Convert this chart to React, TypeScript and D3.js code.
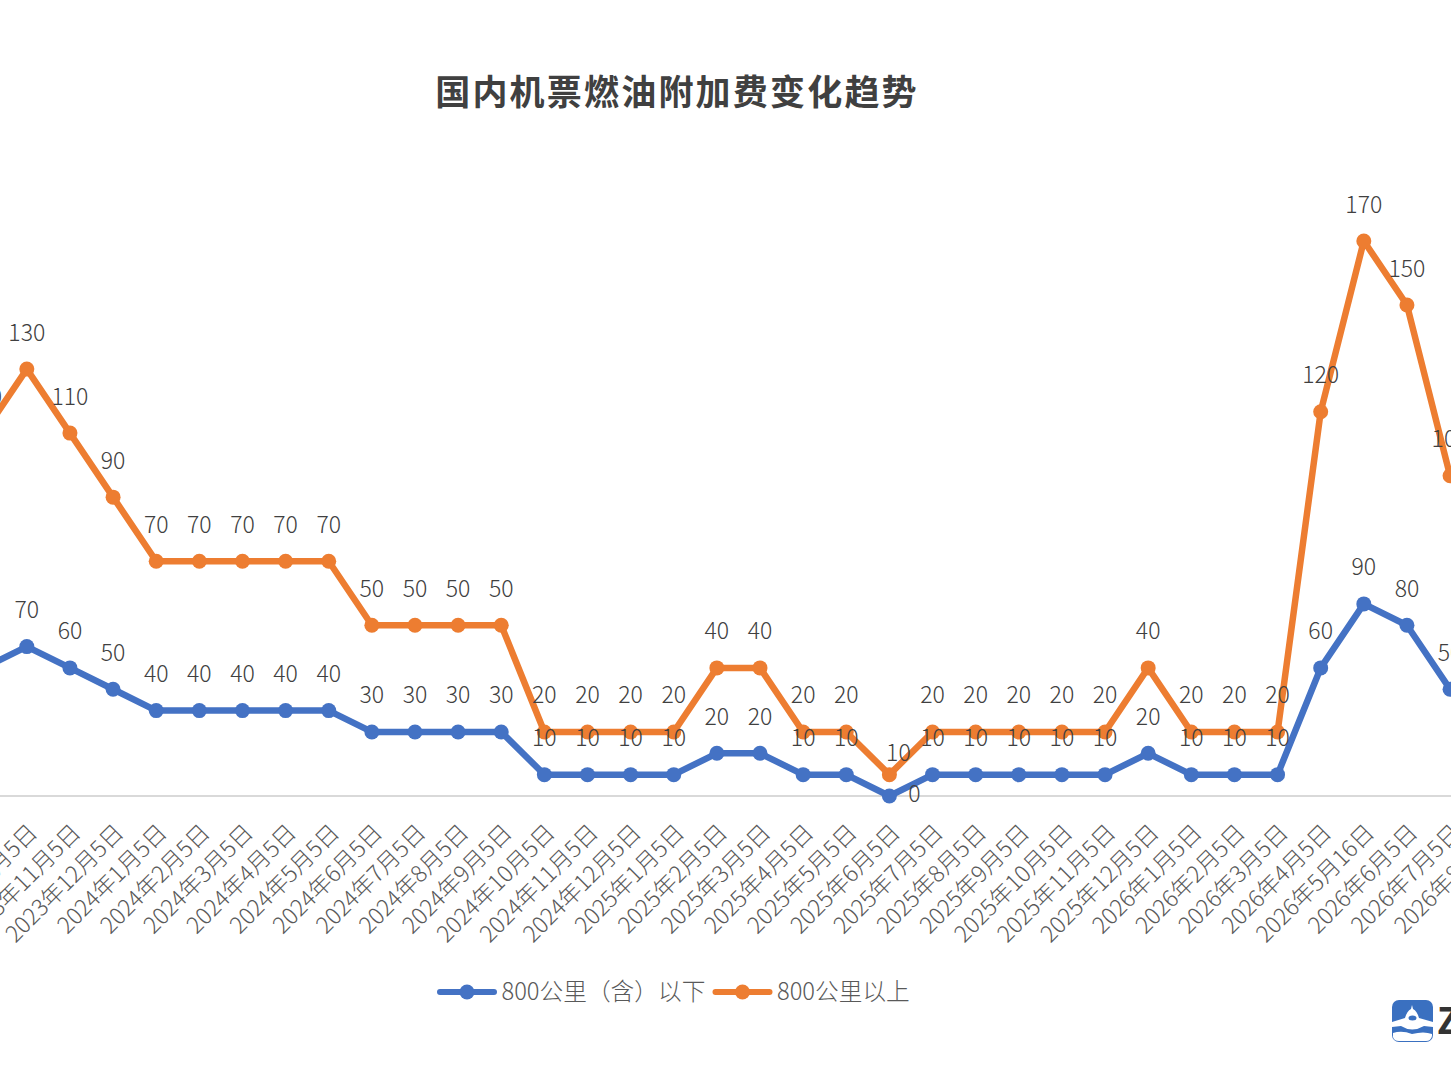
import React from "react";
import * as d3 from "d3";

const title = "国内机票燃油附加费变化趋势";
const categories = [
  "2023年9月5日","2023年10月5日","2023年11月5日","2023年12月5日",
  "2024年1月5日","2024年2月5日","2024年3月5日","2024年4月5日","2024年5月5日","2024年6月5日",
  "2024年7月5日","2024年8月5日","2024年9月5日","2024年10月5日","2024年11月5日","2024年12月5日",
  "2025年1月5日","2025年2月5日","2025年3月5日","2025年4月5日","2025年5月5日","2025年6月5日",
  "2025年7月5日","2025年8月5日","2025年9月5日","2025年10月5日","2025年11月5日","2025年12月5日",
  "2026年1月5日","2026年2月5日","2026年3月5日","2026年4月5日","2026年5月16日","2026年6月5日",
  "2026年7月5日","2026年8月5日",
];
const seriesNames = ["800公里（含）以下", "800公里以上"];
const shortHaul = [60,70,60,50,40,40,40,40,40,30,30,30,30,10,10,10,10,20,20,10,10,0,10,10,10,10,10,20,10,10,10,60,90,80,50];
const longHaul = [110,130,110,90,70,70,70,70,70,50,50,50,50,20,20,20,20,40,40,20,20,10,20,20,20,20,20,40,20,20,20,120,170,150,100];
const colors = ["#4472c4", "#ed7d31"];

const W = 1451, H = 1088;
const FONT = "'Noto Sans CJK SC', 'Noto Sans', sans-serif";

export default function App() {
  const x = d3.scalePoint<string>().domain(categories).range([-16.3, 1493.2]);
  const y = d3.scaleLinear().domain([0, 260]).range([796, 241]);
  const rows = shortHaul.map((s, i) => ({ s, l: longHaul[i], cat: categories[i] }));
  const stacked = d3.stack<any>().keys(["s", "l"])(rows);
  const line = d3.line<any>()
    .x((d) => x(d.data.cat)!)
    .y((d) => y(d[1]));

  return (
    <svg width={W} height={H} viewBox={`0 0 ${W} ${H}`}
      style={{ position: "absolute", left: 0, top: 0, background: "#fff", fontFamily: FONT }}>
      <text x={677} y={105} textAnchor="middle" fontSize={35} fontWeight={700} fill="#404040"
        letterSpacing={2.2}>{title}</text>

      <line x1={0} x2={W} y1={y(0)} y2={y(0)} stroke="#d9d9d9" strokeWidth={2} />

      {categories.map((c) => (
        <text key={c} transform={`translate(${x(c)! + 12},834) rotate(-45)`} textAnchor="end"
          fontSize={23} fontWeight={300} fill="#595959">{c}</text>
      ))}

      {stacked.map((s, si) => (
        <g key={si}>
          <path d={line(s) ?? ""} fill="none" stroke={colors[si]} strokeWidth={6.5} strokeLinejoin="round" strokeLinecap="round" />
          {s.map((d, i) => (
            <circle key={i} cx={x(d.data.cat)!} cy={y(d[1])} r={7.5} fill={colors[si]} />
          ))}
        </g>
      ))}

      {stacked.map((s, si) => (
        <g key={si}>
          {s.map((d, i) => {
            const v = d[1] - d[0];
            const cx = x(d.data.cat)!, cy = y(d[1]);
            const isZero = si === 0 && v === 0;
            const isLowOrange = si === 1 && d[1] === 10;
            const lx = isZero ? cx + 25 : isLowOrange ? cx + 9 : cx;
            const ly = isZero ? cy + 6 : isLowOrange ? cy - 14 : cy - 28.5;
            return (
              <text key={i} x={lx} y={ly} textAnchor="middle" fontSize={23} fontWeight={300} fill="#404040">{v}</text>
            );
          })}
        </g>
      ))}

      {/* legend */}
      {seriesNames.map((n, i) => {
        const x0 = [440, 715.5][i];
        return (
          <g key={n}>
            <line x1={x0} x2={x0 + 54} y1={992} y2={992} stroke={colors[i]} strokeWidth={6} strokeLinecap="round" />
            <circle cx={x0 + 27} cy={992} r={7.5} fill={colors[i]} />
            <text x={x0 + 61.5} y={1000} fontSize={23.7} fontWeight={300} fill="#595959">{n}</text>
          </g>
        );
      })}

      {/* watermark logo */}
      <g>
        <rect x={1392} y={1000} width={41} height={42} rx={7} fill="#3a70c0" />
        <path d="M1393 1033 Q1402 1030 1412 1034 Q1424 1031 1432 1034 L1432 1036 Q1431 1041 1426 1041 L1399 1041 Q1394 1041 1393 1037 Z" fill="#fff" />
        <path d="M1392 1022 L1405 1018 Q1407 1011 1411 1009 L1412 1005 L1413 1009 Q1417 1011 1419 1018 L1433 1022 L1433 1027 L1424 1026 Q1412 1033 1401 1026 L1392 1027 Z" fill="#fff" />
        <ellipse cx={1412.5} cy={1018} rx={4} ry={2.5} fill="#3a70c0" />
        <text x={1437} y={1034} fontSize={36} fontWeight={700} fill="#333">Z</text>
      </g>
    </svg>
  );
}
